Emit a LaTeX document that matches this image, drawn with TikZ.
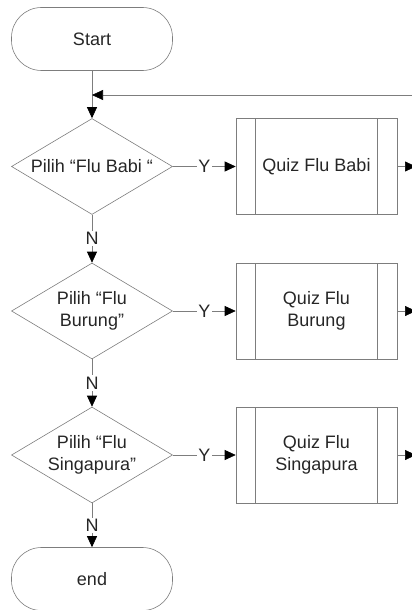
\documentclass[tikz,border=0pt]{standalone}
\usepackage{fontspec}
\setmainfont{Liberation Sans}
\usetikzlibrary{arrows.meta,shapes.geometric}
\definecolor{linegray}{RGB}{125,125,125}

\begin{document}
\begin{tikzpicture}[x=1pt,y=-1pt,line width=0.6pt,every node/.style={font=\fontsize{18}{22}\selectfont, text=black!85}]
    \tikzset{terminal/.style = {shape=rectangle, draw=linegray, rounded corners=30pt, minimum width=161pt, minimum height=63pt}}
    \tikzset{decision/.style = {shape=diamond, draw=linegray, aspect=1.66, inner sep=0pt, minimum width=161pt, minimum height=96pt, align=center}}
    \tikzset{process/.style = {shape=rectangle, draw=linegray, minimum width=161pt, minimum height=96pt, align=center,
        path picture={\draw[linegray] ([xshift=19pt]path picture bounding box.north west) -- ([xshift=19pt]path picture bounding box.south west);
                      \draw[linegray] ([xshift=-20pt]path picture bounding box.north east) -- ([xshift=-20pt]path picture bounding box.south east);}}}
    \tikzset{flow/.style = {draw=linegray, -{Triangle[length=11pt, width=10pt, color=black]}}}
    \tikzset{answer/.style = {fill=white, inner sep=1.5pt}}

    \useasboundingbox (0,0) rectangle (412,610);

    % vertices
    \node[terminal] (start) at (92,39) {Start};
    \node[decision] (babi) at (92,166.5) {Pilih “Flu Babi “};
    \node[decision] (burung) at (92,311) {Pilih “Flu\\Burung”};
    \node[decision] (singa) at (92,455) {Pilih “Flu\\Singapura”};
    \node[terminal] (end) at (92,579) {end};
    \node[process] (qbabi) at (316.5,166.5) {Quiz Flu Babi};
    \node[process] (qburung) at (316.5,311) {Quiz Flu\\Burung};
    \node[process] (qsinga) at (316.5,455) {Quiz Flu\\Singapura};
    \coordinate (join) at (92,95);
    \coordinate (back) at (416,95);
    \coordinate (out1) at (416,166.5);
    \coordinate (out2) at (416,311);
    \coordinate (out3) at (416,455);

    % edges
    \draw[flow] (start) -- (babi);
    \draw[flow] (back) -- (join);
    \draw[flow] (babi) -- node[answer]{Y} (qbabi);
    \draw[flow] (burung) -- node[answer]{Y} (qburung);
    \draw[flow] (singa) -- node[answer]{Y} (qsinga);
    \draw[flow] (babi) -- node[answer]{N} (burung);
    \draw[flow] (burung) -- node[answer]{N} (singa);
    \draw[flow] (singa) -- node[answer]{N} (end);
    \draw[flow] (qbabi) -- (out1);
    \draw[flow] (qburung) -- (out2);
    \draw[flow] (qsinga) -- (out3);
\end{tikzpicture}
\end{document}
